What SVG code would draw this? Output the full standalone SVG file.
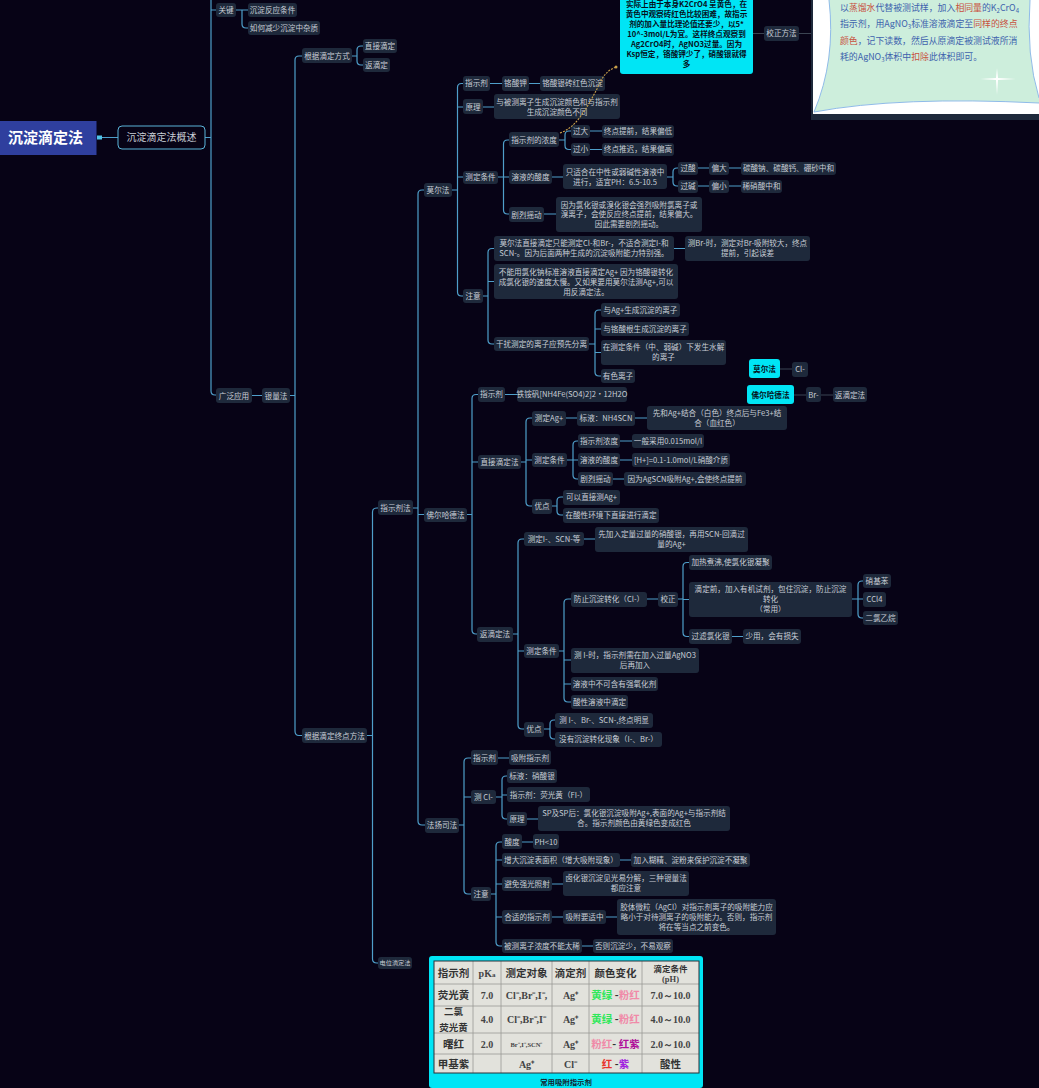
<svg xmlns="http://www.w3.org/2000/svg" width="1039" height="1088" viewBox="0 0 1039 1088">
<style>
text{font-family:"Noto Sans CJK SC","Noto Sans",sans-serif;text-anchor:middle}
.n{fill:#1e293b}
.t{font-size:7.6px;fill:#c9ced6}
.c{fill:#00e5f5}
.k{font-size:7.6px;font-weight:700;fill:#06101c}
.l{fill:none;stroke:#4f9fca;stroke-width:1.2}
.g{fill:none;stroke:#3b4452;stroke-width:1}
.h{font-size:10.5px;font-weight:700;fill:#333}
.s{font-family:"Liberation Serif",serif;font-size:10px;font-weight:700;fill:#444}
.p{font-size:8.9px;fill:#3d62ad;text-anchor:start}
.r{fill:#c8503e}
.u{font-size:6px}
</style>
<rect width="1039" height="1088" fill="#070316"/>
<g id="connectors">
<path class="l" d="M102 137.5H118M205 137.5H211M211 0V391Q211 395 215 395H216M211 10H216M236 10H248M242 10V24Q242 28 246 28H248"/>
<path class="l" d="M252 395.5H262M290 395.5H295M302 56H299Q295 56 295 60V731Q295 735.500 299 735.500H302M352 56H357M363 46H361Q357 46 357 50V61Q357 65 361 65H363"/>
<path class="l" d="M367 735.500H372.500M378 508H377Q372.500 508 372.500 512V959Q372.500 963 377 963H378M413 508H418"/>
<path class="l" d="M424 190H422Q418 190 418 194V821Q418 825 422 825H425M418 514.500H424M452 190H457.500M463 83.500H461.500Q457.500 83.500 457.500 87.500V292Q457.500 296 461.500 296H463M457.500 107H463M457.500 177H463"/>
<path class="l" d="M490 83.500H502M529 83.500H540M483 107H494M498 177H503.500M509 140H507.500Q503.500 140 503.500 144V210Q503.500 214 507.500 214H509M503.500 177H509"/>
<path class="l" d="M559 140H565M571 131H569Q565 131 565 135V145.500Q565 149.500 569 149.500H571M590 131H602M590 149.500H602M552 177H563M667 177H673M678 168H677Q673 168 673 172V182Q673 186 677 186H678M698 168H709M729 168H741M698 186H709M729 186H741M544 214H556"/>
<path class="l" d="M483 296H488M494 248.500H492Q488 248.500 488 252.500V340Q488 344 492 344H494M488 281.500H494M674 248.500H685M589 344H595M601 310H599Q595 310 595 314V372Q595 376 599 376H601M595 329H601M595 352.500H601"/>
<path class="l" d="M467 514.500H472M478 394.500H476Q472 394.500 472 398.500V630Q472 634 476 634H477M472 462H478M505 394.500H517M521 462H526M532 418H530Q526 418 526 422V502Q526 506 530 506H532M526 460H532M566 418H577M635 418H647"/>
<path class="l" d="M567 460H573M578 441H577Q573 441 573 445V475Q573 479 577 479H578M573 460H578M620 441H632M620 460H632M613 479H624M552 506H557M563 497H561Q557 497 557 501V511Q557 515 561 515H563"/>
<path class="l" d="M513 634H518M524 539H522Q518 539 518 543V725Q518 729 522 729H524M518 651H524M584 539H595M559 651H564M571 599H568Q564 599 564 603V698Q564 702 568 702H571M564 660H571M564 684H571M647 599H658M678 599H683M689 562.500H687Q683 562.500 683 566.500V632.500Q683 636.500 687 636.500H689M683 599.500H689M732 636.500H743M852 599H858M863 581H862Q858 581 858 585V614Q858 618 862 618H863M858 599H863M544 729H550M555 720H554Q550 720 550 724V735Q550 739 554 739H555"/>
<path class="l" d="M459 825H464M471 758H468Q464 758 464 762V890Q464 894 468 894H471M464 797H471M498 758H509M496 797H502M507 776H506Q502 776 502 780V815Q502 819 506 819H507M502 795H507M527 819H538M491 894H496M502 842H500Q496 842 496 846V942Q496 946 500 946H502M496 860H502M496 884H502M496 917H502M522 842H533M620 860H631M552 884H563M552 917H563M606 917H617M582 946H593"/>
<path class="g" d="M753 33.500H764M799 33.500H812M780 369H792M794 395H806M821 395H833"/>
<rect x="97" y="135.500" width="5" height="4" fill="#4fc3e8"/>
</g>
<g id="root"><rect x="0" y="121" width="96.500" height="34" fill="#2f3f9e"/><text x="45.500" y="143.300" font-size="15" font-weight="700" fill="#fff">沉淀滴定法</text></g>
<g id="overview"><rect x="118" y="126" width="87" height="23" rx="4" fill="#070316" stroke="#5ab4d8" stroke-width="1"/><text x="161.500" y="141" font-size="10" fill="#c9ced6">沉淀滴定法概述</text></g>
<g id="n01"><rect class="n" x="216" y="3" width="20" height="14" rx="3"/><text class="t" x="226" y="12.700">关键</text></g>
<g id="n02"><rect class="n" x="248" y="3" width="49" height="14" rx="3"/><text class="t" x="272.500" y="12.700">沉淀反应条件</text></g>
<g id="n03"><rect class="n" x="248" y="21" width="72" height="14" rx="3"/><text class="t" x="284" y="30.700">如何减少沉淀中杂质</text></g>
<g id="n04"><rect class="n" x="302" y="48" width="50" height="15" rx="3"/><text class="t" x="327" y="58.700">根据滴定方式</text></g>
<g id="n05"><rect class="n" x="363" y="39" width="34" height="14" rx="3"/><text class="t" x="380" y="48.700">直接滴定</text></g>
<g id="n06"><rect class="n" x="363" y="58" width="27" height="14" rx="3"/><text class="t" x="376.500" y="67.700">返滴定</text></g>
<g id="n07"><rect class="n" x="216" y="388" width="36" height="15" rx="3"/><text class="t" x="234" y="398.500">广泛应用</text></g>
<g id="n08"><rect class="n" x="262" y="388" width="28" height="15" rx="3"/><text class="t" x="276" y="398.500">银量法</text></g>
<g id="n09"><rect class="n" x="378" y="500" width="35" height="15" rx="3"/><text class="t" x="395.500" y="510.800">指示剂法</text></g>
<g id="n10"><rect class="n" x="302" y="728" width="65" height="15" rx="3"/><text class="t" x="334.500" y="738.500">根据滴定终点方法</text></g>
<g id="n11"><rect class="n" x="378" y="957" width="34" height="12" rx="3"/><text x="395" y="965.200" font-size="6.200" fill="#c9ced6">电位滴定法</text></g>
<g id="n12"><rect class="n" x="424" y="183" width="28" height="14" rx="3"/><text class="t" x="438" y="192.800">莫尔法</text></g>
<g id="n13"><rect class="n" x="424" y="508" width="43" height="14" rx="3"/><text class="t" x="445.500" y="517.500">佛尔哈德法</text></g>
<g id="n14"><rect class="n" x="425" y="818" width="34" height="15" rx="3"/><text class="t" x="442" y="828">法扬司法</text></g>
<g id="n15"><rect class="n" x="463" y="76" width="27" height="15" rx="3"/><text class="t" x="476.500" y="86.300">指示剂</text></g>
<g id="n16"><rect class="n" x="502" y="76" width="27" height="15" rx="3"/><text class="t" x="515.500" y="86.300">铬酸钾</text></g>
<g id="n17"><rect class="n" x="540" y="76" width="65" height="15" rx="3"/><text class="t" x="572.500" y="86.300">铬酸银砖红色沉淀</text></g>
<g id="n18"><rect class="n" x="463" y="99" width="20" height="15" rx="3"/><text class="t" x="473" y="109.800">原理</text></g>
<g id="n19"><rect class="n" x="494" y="94" width="126" height="25" rx="3"/><text class="t" x="557" y="104.700">与被测离子生成沉淀颜色和与指示剂</text><text class="t" x="557" y="114.700">生成沉淀颜色不同</text></g>
<g id="n20"><rect class="n" x="463" y="171" width="35" height="13" rx="3"/><text class="t" x="480.500" y="180">测定条件</text></g>
<g id="n21"><rect class="n" x="509" y="132" width="50" height="15" rx="3"/><text class="t" x="534" y="142.800">指示剂的浓度</text></g>
<g id="n22"><rect class="n" x="509" y="170" width="43" height="14" rx="3"/><text class="t" x="530.500" y="179.800">溶液的酸度</text></g>
<g id="n23"><rect class="n" x="509" y="207" width="35" height="15" rx="3"/><text class="t" x="526.500" y="217.500">剧烈摇动</text></g>
<g id="n24"><rect class="n" x="571" y="125" width="19" height="13" rx="3"/><text class="t" x="580.500" y="134.300">过大</text></g>
<g id="n25"><rect class="n" x="602" y="125" width="72" height="13" rx="3"/><text class="t" x="638" y="134.300">终点提前，结果偏低</text></g>
<g id="n26"><rect class="n" x="571" y="143" width="19" height="13" rx="3"/><text class="t" x="580.500" y="152.300">过小</text></g>
<g id="n27"><rect class="n" x="602" y="143" width="72" height="13" rx="3"/><text class="t" x="638" y="152.300">终点推迟，结果偏高</text></g>
<g id="n28"><rect class="n" x="563" y="164" width="104" height="25" rx="3"/><text class="t" x="615" y="174.700">只适合在中性或弱碱性溶液中</text><text class="t" x="615" y="184.700">进行，适宜PH：6.5-10.5</text></g>
<g id="n29"><rect class="n" x="678" y="162" width="20" height="13" rx="3"/><text class="t" x="688" y="171.300">过酸</text></g>
<g id="n30"><rect class="n" x="709" y="162" width="20" height="13" rx="3"/><text class="t" x="719" y="171.300">偏大</text></g>
<g id="n31"><rect class="n" x="741" y="162" width="95" height="13" rx="3"/><text class="t" x="788.500" y="171.300">碳酸钠、碳酸钙、硼砂中和</text></g>
<g id="n32"><rect class="n" x="678" y="180" width="20" height="13" rx="3"/><text class="t" x="688" y="189">过碱</text></g>
<g id="n33"><rect class="n" x="709" y="180" width="20" height="13" rx="3"/><text class="t" x="719" y="189">偏小</text></g>
<g id="n34"><rect class="n" x="741" y="180" width="41" height="13" rx="3"/><text class="t" x="761.500" y="189">稀硝酸中和</text></g>
<g id="n35"><rect class="n" x="556" y="197" width="146" height="35" rx="3"/><text class="t" x="629" y="207.500">因为氯化银或溴化银会强烈吸附氯离子或</text><text class="t" x="629" y="217">溴离子，会使反应终点提前，结果偏大。</text><text class="t" x="629" y="227">因此需要剧烈摇动。</text></g>
<g id="n36"><rect class="n" x="463" y="289" width="20" height="14" rx="3"/><text class="t" x="473" y="298.800">注意</text></g>
<g id="n37"><rect class="n" x="494" y="236" width="180" height="25" rx="3"/><text class="t" x="584" y="245.700">莫尔法直接滴定只能测定Cl-和Br-，不适合测定I-和</text><text class="t" x="584" y="255.700">SCN-。因为后面两种生成的沉淀吸附能力特别强。</text></g>
<g id="n38"><rect class="n" x="685" y="236" width="125" height="25" rx="3"/><text class="t" x="747.500" y="245.700">测Br-时，测定对Br-吸附较大，终点</text><text class="t" x="747.500" y="255.700">提前，引起误差</text></g>
<g id="n39"><rect class="n" x="494" y="264" width="184" height="35" rx="3"/><text class="t" x="586" y="274.700">不能用氯化钠标准溶液直接滴定Ag+ 因为铬酸银转化</text><text class="t" x="586" y="284.700">成氯化银的速度太慢。又如果要用莫尔法测Ag+,可以</text><text class="t" x="586" y="294.700">用反滴定法。</text></g>
<g id="n40"><rect class="n" x="494" y="337" width="95" height="14" rx="3"/><text class="t" x="541.500" y="346.800">干扰测定的离子应预先分离</text></g>
<g id="n41"><rect class="n" x="601" y="303" width="79" height="14" rx="3"/><text class="t" x="640.500" y="312.800">与Ag+生成沉淀的离子</text></g>
<g id="n42"><rect class="n" x="601" y="322" width="88" height="14" rx="3"/><text class="t" x="645" y="331.800">与铬酸根生成沉淀的离子</text></g>
<g id="n43"><rect class="n" x="601" y="340" width="125" height="25" rx="3"/><text class="t" x="663.500" y="350">在测定条件（中、弱碱）下发生水解</text><text class="t" x="663.500" y="360">的离子</text></g>
<g id="n44"><rect class="n" x="601" y="369" width="34" height="14" rx="3"/><text class="t" x="618" y="378.800">有色离子</text></g>
<g id="n45"><rect class="c" x="749" y="359" width="31" height="19" rx="3"/><text class="k" x="764.500" y="371.500">莫尔法</text></g>
<g id="n46"><rect class="n" x="792" y="362" width="16" height="15" rx="3"/><text class="t" x="800" y="372">Cl-</text></g>
<g id="n47"><rect class="c" x="747" y="385" width="47" height="19" rx="3"/><text class="k" x="770.500" y="397.700">佛尔哈德法</text></g>
<g id="n48"><rect class="n" x="806" y="387" width="15" height="15" rx="3"/><text class="t" x="813.500" y="397.700">Br-</text></g>
<g id="n49"><rect class="n" x="833" y="387" width="34" height="15" rx="3"/><text class="t" x="850" y="397.700">返滴定法</text></g>
<g id="n50"><rect class="n" x="478" y="387" width="27" height="15" rx="3"/><text class="t" x="491.500" y="397.300">指示剂</text></g>
<g id="n51"><rect class="n" x="517" y="387" width="110" height="15" rx="3"/><text class="t" x="572" y="397.300">铁铵矾[NH4Fe(SO4)2]2·12H2O</text></g>
<g id="n52"><rect class="n" x="478" y="455" width="43" height="14" rx="3"/><text class="t" x="499.500" y="464.800">直接滴定法</text></g>
<g id="n53"><rect class="n" x="532" y="411" width="34" height="15" rx="3"/><text class="t" x="549" y="421">测定Ag+</text></g>
<g id="n54"><rect class="n" x="577" y="411" width="58" height="15" rx="3"/><text class="t" x="606" y="421">标液：NH4SCN</text></g>
<g id="n55"><rect class="n" x="647" y="406" width="140" height="24" rx="3"/><text class="t" x="717" y="415.700">先和Ag+结合（白色）终点后与Fe3+结</text><text class="t" x="717" y="425.700">合（血红色）</text></g>
<g id="n56"><rect class="n" x="532" y="453" width="35" height="14" rx="3"/><text class="t" x="549.500" y="462.800">测定条件</text></g>
<g id="n57"><rect class="n" x="578" y="434" width="42" height="14" rx="3"/><text class="t" x="599" y="443.800">指示剂浓度</text></g>
<g id="n58"><rect class="n" x="632" y="434" width="72" height="14" rx="3"/><text class="t" x="668" y="443.800">一般采用0.015mol/l</text></g>
<g id="n59"><rect class="n" x="578" y="453" width="42" height="14" rx="3"/><text class="t" x="599" y="462.800">溶液的酸度</text></g>
<g id="n60"><rect class="n" x="632" y="453" width="98" height="14" rx="3"/><text class="t" x="681" y="462.800">[H+]=0.1-1.0mol/L硝酸介质</text></g>
<g id="n61"><rect class="n" x="578" y="472" width="35" height="14" rx="3"/><text class="t" x="595.500" y="481.800">剧烈摇动</text></g>
<g id="n62"><rect class="n" x="624" y="472" width="122" height="14" rx="3"/><text class="t" x="685" y="481.800">因为AgSCN吸附Ag+,会使终点提前</text></g>
<g id="n63"><rect class="n" x="532" y="499" width="20" height="15" rx="3"/><text class="t" x="542" y="509">优点</text></g>
<g id="n64"><rect class="n" x="563" y="490" width="57" height="15" rx="3"/><text class="t" x="591.500" y="500">可以直接测Ag+</text></g>
<g id="n65"><rect class="n" x="563" y="508" width="96" height="15" rx="3"/><text class="t" x="611" y="518.300">在酸性环境下直接进行滴定</text></g>
<g id="n66"><rect class="n" x="477" y="627" width="36" height="15" rx="3"/><text class="t" x="495" y="637.300">返滴定法</text></g>
<g id="n67"><rect class="n" x="524" y="532" width="60" height="14" rx="3"/><text class="t" x="554" y="541.800">测定I-、SCN-等</text></g>
<g id="n68"><rect class="n" x="595" y="527" width="153" height="25" rx="3"/><text class="t" x="671.500" y="536.700">先加入定量过量的硝酸银，再用SCN-回滴过</text><text class="t" x="671.500" y="546.700">量的Ag+</text></g>
<g id="n69"><rect class="n" x="524" y="644" width="35" height="14" rx="3"/><text class="t" x="541.500" y="653.800">测定条件</text></g>
<g id="n70"><rect class="n" x="571" y="592" width="76" height="15" rx="3"/><text class="t" x="609" y="602">防止沉淀转化（Cl-）</text></g>
<g id="n71"><rect class="n" x="658" y="592" width="20" height="15" rx="3"/><text class="t" x="668" y="602">校正</text></g>
<g id="n72"><rect class="n" x="689" y="555" width="83" height="15" rx="3"/><text class="t" x="730.500" y="565.300">加热煮沸,使氯化银凝聚</text></g>
<g id="n73"><rect class="n" x="689" y="582" width="163" height="35" rx="3"/><text class="t" x="770.500" y="591.700">滴定前，加入有机试剂，包住沉淀，防止沉淀</text><text class="t" x="770.500" y="601.700">转化</text><text class="t" x="770.500" y="611.700">（常用）</text></g>
<g id="n74"><rect class="n" x="689" y="629" width="43" height="15" rx="3"/><text class="t" x="710.500" y="639.300">过滤氯化银</text></g>
<g id="n75"><rect class="n" x="743" y="629" width="58" height="15" rx="3"/><text class="t" x="772" y="639.300">少用，会有损失</text></g>
<g id="n76"><rect class="n" x="863" y="574" width="28" height="14" rx="3"/><text class="t" x="877" y="583.800">硝基苯</text></g>
<g id="n77"><rect class="n" x="863" y="592" width="23" height="15" rx="3"/><text class="t" x="874.500" y="602">CCl4</text></g>
<g id="n78"><rect class="n" x="863" y="611" width="35" height="14" rx="3"/><text class="t" x="880.500" y="620.800">二氯乙烷</text></g>
<g id="n79"><rect class="n" x="571" y="648" width="128" height="25" rx="3"/><text class="t" x="635" y="657.700">测 I-时，指示剂需在加入过量AgNO3</text><text class="t" x="635" y="667.700">后再加入</text></g>
<g id="n80"><rect class="n" x="571" y="677" width="87" height="14" rx="3"/><text class="t" x="614.500" y="686.800">溶液中不可含有强氧化剂</text></g>
<g id="n81"><rect class="n" x="571" y="695" width="57" height="14" rx="3"/><text class="t" x="599.500" y="704.800">酸性溶液中滴定</text></g>
<g id="n82"><rect class="n" x="524" y="722" width="20" height="15" rx="3"/><text class="t" x="534" y="732.200">优点</text></g>
<g id="n83"><rect class="n" x="555" y="713" width="98" height="15" rx="3"/><text class="t" x="604" y="723">测 I-、Br-、SCN-,终点明显</text></g>
<g id="n84"><rect class="n" x="555" y="732" width="107" height="15" rx="3"/><text class="t" x="608.500" y="742">没有沉淀转化现象（I-、Br-）</text></g>
<g id="n85"><rect class="n" x="471" y="750" width="27" height="15" rx="3"/><text class="t" x="484.500" y="760.800">指示剂</text></g>
<g id="n86"><rect class="n" x="509" y="750" width="42" height="15" rx="3"/><text class="t" x="530" y="760.800">吸附指示剂</text></g>
<g id="n87"><rect class="n" x="471" y="790" width="25" height="14" rx="3"/><text class="t" x="483.500" y="800">测 Cl-</text></g>
<g id="n88"><rect class="n" x="507" y="769" width="50" height="14" rx="3"/><text class="t" x="532" y="778.800">标液：硝酸银</text></g>
<g id="n89"><rect class="n" x="507" y="787" width="83" height="15" rx="3"/><text class="t" x="548.500" y="797.500">指示剂：荧光黄（FI-）</text></g>
<g id="n90"><rect class="n" x="507" y="812" width="20" height="14" rx="3"/><text class="t" x="517" y="821.800">原理</text></g>
<g id="n91"><rect class="n" x="538" y="806" width="192" height="25" rx="3"/><text class="t" x="634" y="815.700">SP及SP后：氯化银沉淀吸附Ag+,表面的Ag+与指示剂结</text><text class="t" x="634" y="825.700">合。指示剂颜色由黄绿色变成红色</text></g>
<g id="n92"><rect class="n" x="471" y="887" width="20" height="14" rx="3"/><text class="t" x="481" y="896.800">注意</text></g>
<g id="n93"><rect class="n" x="502" y="834" width="20" height="15" rx="3"/><text class="t" x="512" y="844.800">酸度</text></g>
<g id="n94"><rect class="n" x="533" y="834" width="26" height="15" rx="3"/><text class="t" x="546" y="844.800">PH&lt;10</text></g>
<g id="n95"><rect class="n" x="502" y="853" width="118" height="14" rx="3"/><text class="t" x="561" y="862.800">增大沉淀表面积（增大吸附现象）</text></g>
<g id="n96"><rect class="n" x="631" y="853" width="119" height="14" rx="3"/><text class="t" x="690.500" y="862.800">加入糊精、淀粉来保护沉淀不凝聚</text></g>
<g id="n97"><rect class="n" x="502" y="877" width="50" height="14" rx="3"/><text class="t" x="527" y="886.800">避免强光照射</text></g>
<g id="n98"><rect class="n" x="563" y="871" width="126" height="25" rx="3"/><text class="t" x="626" y="881.300">卤化银沉淀见光易分解，三种银量法</text><text class="t" x="626" y="891">都应注意</text></g>
<g id="n99"><rect class="n" x="502" y="910" width="50" height="14" rx="3"/><text class="t" x="527" y="919.800">合适的指示剂</text></g>
<g id="n100"><rect class="n" x="563" y="910" width="43" height="14" rx="3"/><text class="t" x="584.500" y="919.800">吸附要适中</text></g>
<g id="n101"><rect class="n" x="617" y="899" width="159" height="36" rx="3"/><text class="t" x="696.500" y="909.700">胶体微粒（AgCl）对指示剂离子的吸附能力应</text><text class="t" x="696.500" y="919.700">略小于对待测离子的吸附能力。否则，指示剂</text><text class="t" x="696.500" y="929.700">将在等当点之前变色。</text></g>
<g id="n102"><rect class="n" x="502" y="939" width="80" height="14" rx="3"/><text class="t" x="542" y="948.800">被测离子浓度不能太稀</text></g>
<g id="n103"><rect class="n" x="593" y="939" width="80" height="14" rx="3"/><text class="t" x="633" y="948.800">否则沉淀少，不易观察</text></g>
<g id="n104"><rect class="c" x="620" y="-10" width="133" height="84" rx="3"/><text class="k" x="686.500" y="7.200">实际上由于本身K2CrO4 呈黄色，在</text><text class="k" x="686.500" y="16.800">黄色中观察砖红色比较困难，故指示</text><text class="k" x="686.500" y="26.700">剂的加入量比理论值还要少，以5*</text><text class="k" x="686.500" y="36.700">10^-3mol/L为宜。这样终点观察到</text><text class="k" x="686.500" y="46.700">Ag2CrO4时，AgNO3过量。因为</text><text class="k" x="686.500" y="56.700">Ksp恒定，铬酸钾少了，硝酸银就得</text><text class="k" x="686.500" y="66.700">多</text></g>
<g id="n105"><rect class="n" x="764" y="26" width="35" height="15" rx="3"/><text class="t" x="781.500" y="36.300">校正方法</text></g>
<g id="n106">
<rect x="811" y="0" width="228" height="120" fill="#1e293b"/>
<rect x="813" y="0" width="226" height="114" fill="#fff"/>
<path d="M814 112Q836 60 829 0H1030Q1026 55 1039 98V103Q900 96 814 112Z" fill="#cdeedc"/>
<path d="M814 112Q836 60 829 0M814 112Q900 96 1039 103M1030 0Q1026 55 1039 98" fill="none" stroke="#8fbbe8" stroke-width="1"/>
<path d="M997 68L998 78L1016 79L998 80L997 95L996 80L980 79L996 78Z" fill="#fff"/>
<text class="p" x="840" y="10.500">以<tspan class="r">蒸馏水</tspan>代替被测试样，加入<tspan class="r">相同量</tspan>的K<tspan class="u" dy="2">2</tspan><tspan dy="-2">CrO</tspan><tspan class="u" dy="2">4</tspan></text>
<text class="p" x="840" y="27">指示剂，用AgNO<tspan class="u" dy="2">3</tspan><tspan dy="-2">标准溶液滴定至</tspan><tspan class="r">同样的终点</tspan></text>
<text class="p" x="840" y="43.500"><tspan class="r">颜色</tspan>，记下读数，然后从原滴定被测试液所消</text>
<text class="p" x="840" y="60">耗的AgNO<tspan class="u" dy="2">3</tspan><tspan dy="-2">体积中</tspan><tspan class="r">扣除</tspan>此体积即可。</text>
</g>
<g id="n107">
<rect class="c" x="429" y="956" width="274" height="132" rx="3"/>
<rect x="434" y="961" width="265" height="112" fill="#e2e2dc"/>
<path d="M473 961V1073M501 961V1073M552 961V1073M589 961V1073M642 961V1073M434 984H699M434 1006H699M434 1033H699M434 1054H699" fill="none" stroke="#9a9a94" stroke-width="0.800"/>
<rect x="434" y="961" width="265" height="112" fill="none" stroke="#2b3138" stroke-width="1"/>
<text class="h" x="453.500" y="977">指示剂</text><text class="s" x="487" y="977">pK<tspan font-size="7">a</tspan></text><text class="h" x="526.500" y="977">测定对象</text><text class="h" x="570.500" y="977">滴定剂</text><text class="h" x="615.500" y="977">颜色变化</text><text class="h" x="670.500" y="972" style="font-size:8.500px">滴定条件</text><text class="s" x="670.500" y="982" style="font-size:8.500px">(pH)</text>
<text class="h" x="453.500" y="999">荧光黄</text><text class="s" x="487" y="999">7.0</text><text class="s" x="526.500" y="999">Cl⁻,Br⁻,I⁻,</text><text class="s" x="570.500" y="999">Ag⁺</text><text class="h" x="615.500" y="999"><tspan fill="#2ee85a">黄绿</tspan> -<tspan fill="#f08aa8">粉红</tspan></text><text class="s" x="670.500" y="999">7.0～10.0</text>
<text class="h" x="453.500" y="1015" style="font-size:9.500px">二氯</text><text class="h" x="453.500" y="1031" style="font-size:9.500px">荧光黄</text><text class="s" x="487" y="1023">4.0</text><text class="s" x="526.500" y="1023">Cl⁻,Br⁻,I⁻</text><text class="s" x="570.500" y="1023">Ag⁺</text><text class="h" x="615.500" y="1023"><tspan fill="#2ee85a">黄绿</tspan> -<tspan fill="#f08aa8">粉红</tspan></text><text class="s" x="670.500" y="1023">4.0～10.0</text>
<text class="h" x="453.500" y="1048">曙红</text><text class="s" x="487" y="1048">2.0</text><text class="s" x="526.500" y="1047" style="font-size:6.500px">Br⁻,I⁻,SCN⁻</text><text class="s" x="570.500" y="1048">Ag⁺</text><text class="h" x="615.500" y="1048"><tspan fill="#f08aa8">粉红</tspan>- <tspan fill="#b0109a">红紫</tspan></text><text class="s" x="670.500" y="1048">2.0～10.0</text>
<text class="h" x="453.500" y="1068">甲基紫</text><text class="s" x="526.500" y="1068">Ag⁺</text><text class="s" x="570.500" y="1068">Cl⁻</text><text class="h" x="615.500" y="1068"><tspan fill="#e8322c">红</tspan> -<tspan fill="#a020e0">紫</tspan></text><text class="h" x="670.500" y="1068">酸性</text>
<text x="566" y="1085" font-size="7.400" font-weight="700" fill="#12202c">常用吸附指示剂</text>
</g>
<g id="connector-link">
<path d="M560 133C572 129 580 118 587 107Q594 95 600 83Q605 71 616 67" fill="none" stroke="#c9a04a" stroke-width="1.100" stroke-dasharray="2 1.200"/>
<circle cx="616" cy="67" r="1.500" fill="#c9a04a"/>
</g>
</svg>
